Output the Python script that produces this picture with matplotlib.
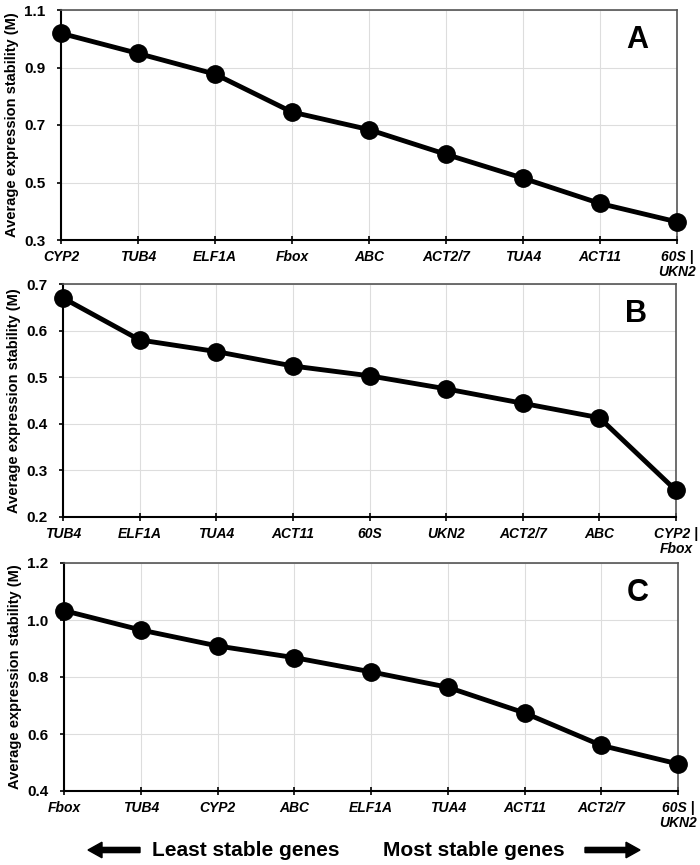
import matplotlib
matplotlib.use('Agg')
import matplotlib.pyplot as plt

plt.rcParams['font.family'] = ['Liberation Sans', 'DejaVu Sans']

genes_a = ['CYP2', 'TUB4', 'ELF1A', 'Fbox', 'ABC', 'ACT2/7', 'TUA4', 'ACT11', '60S |\nUKN2']
m_a = [1.019, 0.949, 0.877, 0.745, 0.684, 0.598, 0.515, 0.427, 0.363]

genes_b = ['TUB4', 'ELF1A', 'TUA4', 'ACT11', '60S', 'UKN2', 'ACT2/7', 'ABC', 'CYP2 |\nFbox']
m_b = [0.670, 0.580, 0.555, 0.524, 0.503, 0.475, 0.444, 0.413, 0.257]

genes_c = ['Fbox', 'TUB4', 'CYP2', 'ABC', 'ELF1A', 'TUA4', 'ACT11', 'ACT2/7', '60S |\nUKN2']
m_c = [1.033, 0.965, 0.909, 0.868, 0.818, 0.764, 0.674, 0.560, 0.495]

panels = [
    ('A', genes_a, m_a, (0.3, 1.1), [0.3, 0.5, 0.7, 0.9, 1.1]),
    ('B', genes_b, m_b, (0.2, 0.7), [0.2, 0.3, 0.4, 0.5, 0.6, 0.7]),
    ('C', genes_c, m_c, (0.4, 1.2), [0.4, 0.6, 0.8, 1.0, 1.2]),
]

W, H = 700, 865
fig = plt.figure(figsize=(W / 100, H / 100), dpi=100)

# axes boxes in pixels: left, top, right, bottom
boxes = [(61, 10, 677, 240), (63, 284, 676, 517), (64, 563, 678, 791)]

for (letter, genes, vals, ylim, yticks), (l, t, r, b) in zip(panels, boxes):
    ax = fig.add_axes([l / W, 1 - b / H, (r - l) / W, (b - t) / H])
    x = list(range(len(genes)))
    ax.plot(x, vals, color='black', lw=3.5, marker='o', ms=12.5, clip_on=False, zorder=3)
    ax.set_xlim(0, len(genes) - 1)
    ax.set_ylim(*ylim)
    ax.set_yticks(yticks)
    ax.set_yticklabels(['{:.1f}'.format(v) for v in yticks], fontsize=11, fontweight='bold')
    ax.set_xticks(x)
    ax.set_xticklabels(genes, fontsize=10, fontweight='bold', fontstyle='italic',
                       linespacing=1.15)
    ax.grid(True, color='#dddddd', lw=0.8)
    ax.set_axisbelow(True)
    for s in ['top', 'right']:
        ax.spines[s].set_color('#555555')
        ax.spines[s].set_linewidth(1.2)
    for s in ['left', 'bottom']:
        ax.spines[s].set_color('black')
        ax.spines[s].set_linewidth(1.5)
    ax.tick_params(axis='x', direction='inout', length=6, width=1.2, pad=4)
    ax.tick_params(axis='y', direction='out', length=3, width=1.2, pad=8)
    ax.set_ylabel('Average expression stability (M)', fontsize=10.5, fontweight='bold',
                  labelpad=4)
    ax.text(0.935, 0.87, letter, transform=ax.transAxes, fontsize=22, fontweight='bold',
            ha='center', va='center')

# bottom direction arrows
ya = 1 - 850 / H
fig.text(152 / W, ya, 'Least stable genes', fontsize=15, fontweight='bold', ha='left', va='center')
fig.text(565 / W, ya, 'Most stable genes', fontsize=15, fontweight='bold', ha='right', va='center')
fig.patches.append(matplotlib.patches.FancyArrow(140 / W, ya, -52 / W, 0, width=0.006,
                   head_width=0.018, head_length=0.02, color='black',
                   transform=fig.transFigure, length_includes_head=True))
fig.patches.append(matplotlib.patches.FancyArrow(585 / W, ya, 55 / W, 0, width=0.006,
                   head_width=0.018, head_length=0.02, color='black',
                   transform=fig.transFigure, length_includes_head=True))

fig.savefig('out.png', dpi=100)
